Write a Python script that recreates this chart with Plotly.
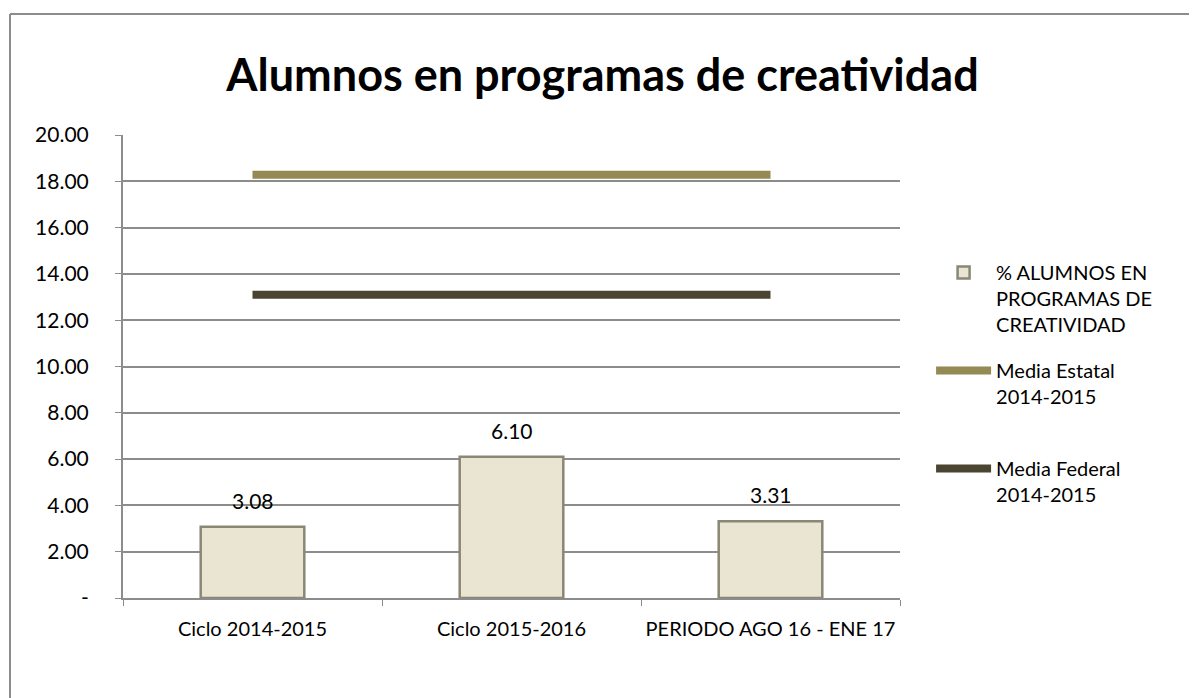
"""
Alumnos en programas de creatividad - bar chart with reference lines
"""
import plotly.graph_objects as go

# Data
categories = ["Ciclo 2014-2015", "Ciclo 2015-2016", "PERIODO AGO 16 - ENE 17"]
pct_alumnos = [3.08, 6.10, 3.31]
media_estatal = [18.28, 18.28, 18.28]
media_federal = [13.10, 13.10, 13.10]

y_tickvals = [0, 2, 4, 6, 8, 10, 12, 14, 16, 18, 20]
y_ticktext = ["-", "2.00", "4.00", "6.00", "8.00", "10.00", "12.00", "14.00", "16.00", "18.00", "20.00"]

FONT = "Lato, 'Open Sans', sans-serif"

fig = go.Figure()

# Bars
fig.add_trace(go.Bar(
    x=categories,
    y=pct_alumnos,
    name="% ALUMNOS EN<br>PROGRAMAS DE<br>CREATIVIDAD",
    marker=dict(color="#E9E5D2", line=dict(color="#8A8776", width=2.5)),
    width=0.4,
    legendgroup="a",
))

# Data labels above the bars
for cat, val in zip(categories, pct_alumnos):
    fig.add_annotation(
        x=cat, y=val, text=f"{val:.2f}",
        showarrow=False, yanchor="bottom", yshift=12,
        font=dict(size=21, color="#000000", family=FONT),
    )

# Reference lines
fig.add_trace(go.Scatter(
    x=categories,
    y=media_estatal,
    mode="lines",
    name="Media Estatal<br>2014-2015<br> ",
    line=dict(color="#948A54", width=8),
    legendgroup="b",
))
fig.add_trace(go.Scatter(
    x=categories,
    y=media_federal,
    mode="lines",
    name="Media Federal<br>2014-2015",
    line=dict(color="#4A4430", width=8),
    legendgroup="c",
))

# Outer chart border (only top and left edges visible)
bx = (10 - 123) / 777
by = (598 - 14) / 463
fig.add_shape(type="line", xref="paper", yref="paper",
              x0=bx, x1=1.5, y0=by, y1=by,
              line=dict(color="#8C8C8C", width=2))
fig.add_shape(type="line", xref="paper", yref="paper",
              x0=bx, x1=bx, y0=-0.5, y1=by,
              line=dict(color="#8C8C8C", width=2))

fig.update_layout(
    width=1189,
    height=690,
    margin=dict(l=115, r=297, t=127, b=100),
    paper_bgcolor="white",
    plot_bgcolor="white",
    font=dict(family=FONT, size=21, color="#000000"),
    title=dict(
        text="<b>Alumnos en programas de creatividad</b>",
        x=0.5, xanchor="center",
        y=0.903, yanchor="middle",
        font=dict(size=45, family=FONT, color="#000000"),
    ),
    showlegend=True,
    legend=dict(
        x=1.04, xanchor="left",
        y=0.745, yanchor="top",
        font=dict(size=20, family=FONT),
        tracegroupgap=17,
        valign="top",
        itemwidth=55,
        bgcolor="rgba(0,0,0,0)",
    ),
)

fig.update_xaxes(
    showline=True, linecolor="#8C8C8C", linewidth=2,
    ticks="outside", ticklen=6, tickcolor="#8C8C8C",
    tickson="boundaries",
    showgrid=False,
    tickfont=dict(size=20),
    ticklabelstandoff=12,
)
fig.update_yaxes(
    range=[0, 20],
    tickvals=y_tickvals,
    ticktext=y_ticktext,
    showline=True, linecolor="#8C8C8C", linewidth=2,
    ticks="outside", ticklen=6, tickcolor="#8C8C8C",
    showgrid=True, gridcolor="#8C8C8C", gridwidth=2,
    zeroline=False,
    tickfont=dict(size=21),
    ticklabelstandoff=22,
)

fig.write_html("out.html")
